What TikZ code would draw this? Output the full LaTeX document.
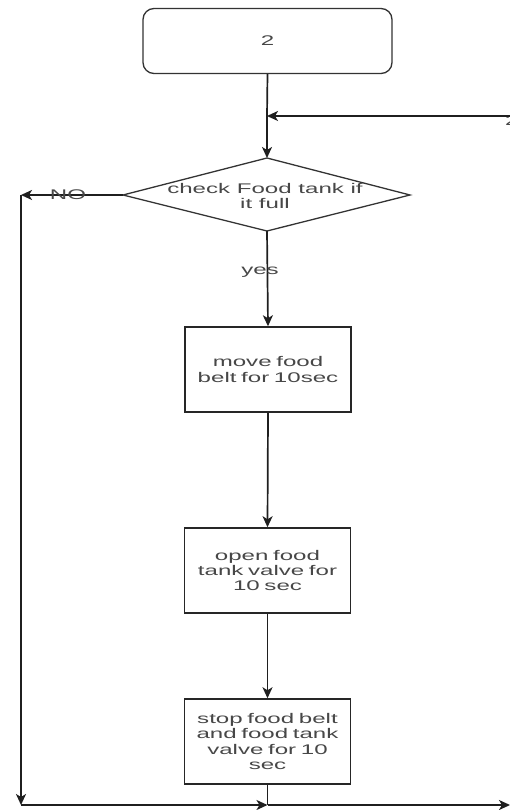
\documentclass[tikz,border=0pt]{standalone}
\usepackage{fontspec}
\setmainfont[FakeStretch=1.72]{Liberation Sans}
\usetikzlibrary{arrows.meta}
\begin{document}
\begin{tikzpicture}[x=1pt,y=-1pt,
  line/.style={draw=black!88,line width=1.7pt},
  arrow/.style={line,-{Stealth[length=11pt,width=10pt,inset=3pt]}},
  txt/.style={text=black!72,font=\fontsize{14}{15.2}\selectfont,align=center,inner sep=0pt},
  startbox/.style={draw=black!80,line width=1.3pt,rounded corners=11pt,minimum width=249pt,minimum height=65pt,txt},
  stepbox/.style={draw=black!85,line width=1.5pt,minimum width=166pt,minimum height=85pt,txt,text width=156pt}
]
\useasboundingbox (0,0) rectangle (510,810);

% start box
\node[startbox] (start) at (267.5,41) {2};

% loop-back entry from the right
\coordinate (loopin) at (510,116);
\coordinate (trunk) at (267,116);
\node[txt,anchor=west] (looplabel) at (505,121) {2};

% decision diamond
\coordinate (dtop) at (267,158);
\coordinate (dright) at (410,195);
\coordinate (dbot) at (267,231);
\coordinate (dleft) at (123,195);
\draw[draw=black!80,line width=1.3pt] (dtop) -- (dright) -- (dbot) -- (dleft) -- cycle;
\node[txt] (dtext) at (265,196) {check Food tank if\\it full};

% process steps
\node[stepbox] (move) at (268,369.5) {move food\\belt for 10sec};
\node[stepbox] (open) at (267.5,570.5) {open food\\tank valve for\\10 sec};
\node[stepbox] (stop) at (267.5,741.5) {stop food belt\\and food tank\\valve for 10\\sec};

% NO branch route
\coordinate (noend) at (21,195);
\coordinate (nocorner) at (21,805);
\coordinate (join) at (267.5,805);
\coordinate (exit) at (510,805);

% connectors
\draw[line] (start.south) -- (trunk);
\draw[arrow] (trunk) -- (dtop);
\draw[arrow] (loopin) -- (trunk);
\draw[arrow] (dleft) -- (noend);
\node[txt] (nolabel) at (68,195) {NO};
\draw[arrow] (noend) -- (nocorner);
\draw[arrow] (nocorner) -- (join);
\draw[arrow] (dbot) -- (move.north);
\node[txt] (yeslabel) at (260,272) {yes};
\draw[arrow] (move.south) -- (open.north);
\draw[arrow] (open.south) -- (stop.north);
\draw[line] (stop.south) -- (join);
\draw[arrow] (join) -- (exit);
\end{tikzpicture}
\end{document}
